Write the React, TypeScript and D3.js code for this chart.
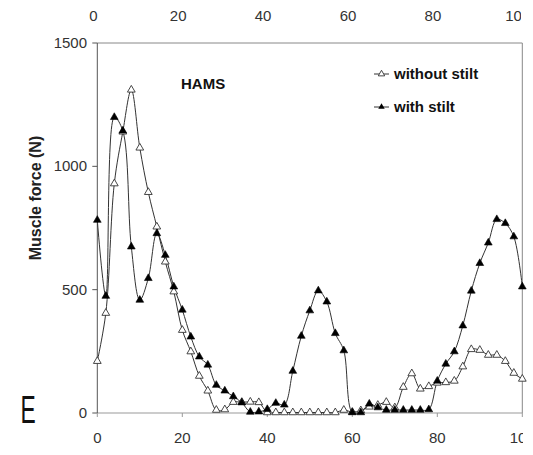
import React from "react";
import * as d3 from "d3";

const cycle = d3.range(0, 101, 2);
const withoutStilt = [210, 405, 930, 1140, 1310, 1075, 895, 755, 613, 492, 336, 249, 150, 90, 12, 14, 44, 44, 45, 43, 2, 2, 2, 2, 2, 2, 2, 2, 2, 12, 4, 10, 25, 32, 44, 22, 105, 160, 98, 108, 122, 124, 130, 188, 258, 255, 235, 235, 210, 162, 138];
const withStilt = [782, 474, 1199, 1144, 674, 458, 546, 728, 640, 512, 418, 309, 228, 195, 113, 90, 67, 42, 4, 5, 15, 40, 33, 170, 312, 415, 496, 451, 323, 253, 2, 2, 37, 22, 12, 12, 12, 12, 12, 14, 130, 199, 249, 354, 495, 607, 690, 785, 769, 715, 512];
const xTicks = [0, 20, 40, 60, 80, 100];
const yTicks = [0, 500, 1000, 1500];
const seriesNames = ["without stilt", "with stilt"];

export default function App() {
  const x = d3.scaleLinear().domain([0, 100]).range([97.3, 522.3]);
  const y = d3.scaleLinear().domain([0, 1500]).range([413, 43]);
  const line = d3
    .line<number>()
    .x((_, i) => x(cycle[i]))
    .y((d) => y(d))
    .curve(d3.curveCatmullRom.alpha(0.5));
  const tri = d3.symbol().type(d3.symbolTriangle).size(26)();
  const font = "Arial, 'Liberation Sans', sans-serif";
  const lineColor = "#333";
  return (
    <svg width={533} height={455} style={{ position: "absolute", left: 0, top: 0, background: "#fff" }}>
      <defs>
        <clipPath id="topclip">
          <rect x={0} y={9} width={521} height={20} />
        </clipPath>
        <clipPath id="rightclip">
          <rect x={0} y={0} width={523} height={455} />
        </clipPath>
      </defs>
      {/* top axis labels */}
      <g clipPath="url(#topclip)" fontFamily={font} fontSize={15} fill="#333">
        {xTicks.map((t, i) => (
          <text key={t} x={x(t) - 4 - i * 0.1} y={21} textAnchor="middle">
            {t}
          </text>
        ))}
      </g>
      {/* frame */}
      <line x1={x(0)} x2={x(100)} y1={y(1500)} y2={y(1500)} stroke="#888" strokeWidth={1} />
      <line x1={x(100)} x2={x(100)} y1={y(1500)} y2={y(0)} stroke="#888" strokeWidth={1} />
      <line x1={x(0)} x2={x(100)} y1={y(0)} y2={y(0)} stroke="#999" strokeWidth={1} />
      <line x1={x(0)} x2={x(0)} y1={y(1500)} y2={y(0)} stroke="#555" strokeWidth={1} />
      {yTicks.map((t) => (
        <g key={t}>
          <line x1={x(0) - 5} x2={x(0)} y1={y(t)} y2={y(t)} stroke="#555" />
          <text x={87} y={y(t) + 5} textAnchor="end" fontFamily={font} fontSize={15} fill="#333">
            {t}
          </text>
        </g>
      ))}
      <g clipPath="url(#rightclip)">
        {xTicks.map((t) => (
          <g key={t}>
            <line x1={x(t)} x2={x(t)} y1={y(0)} y2={y(0) + 4} stroke="#999" />
            <text x={x(t)} y={443} textAnchor="middle" fontFamily={font} fontSize={15} fill="#333">
              {t}
            </text>
          </g>
        ))}
      </g>
      {/* series */}
      <path d={line(withoutStilt) || ""} fill="none" stroke={lineColor} strokeWidth={1} />
      <path d={line(withStilt) || ""} fill="none" stroke={lineColor} strokeWidth={1} />
      {withoutStilt.map((v, i) => (
        <path key={"o" + i} d={tri || ""} transform={`translate(${x(cycle[i])},${y(v)})`} fill="#fff" stroke="#333" strokeWidth={0.9} />
      ))}
      {withStilt.map((v, i) => (
        <path key={"f" + i} d={tri || ""} transform={`translate(${x(cycle[i])},${y(v)})`} fill="#000" stroke="#000" strokeWidth={0.6} />
      ))}
      {/* labels */}
      <text x={181} y={89} fontFamily={font} fontSize={15} fontWeight="bold" fill="#111">
        HAMS
      </text>
      <g fontFamily={font} fontSize={15} fontWeight="bold" fill="#111">
        <line x1={374} x2={389} y1={74} y2={74} stroke={lineColor} />
        <path d={d3.symbol().type(d3.symbolTriangle).size(18)() || ""} transform="translate(381.5,74)" fill="#fff" stroke="#333" strokeWidth={0.9} />
        <text x={394} y={79}>{seriesNames[0]}</text>
        <line x1={374} x2={389} y1={107} y2={107} stroke={lineColor} />
        <path d={d3.symbol().type(d3.symbolTriangle).size(18)() || ""} transform="translate(381.5,107)" fill="#000" />
        <text x={394} y={112}>{seriesNames[1]}</text>
      </g>
      <text
        transform="translate(41,198) rotate(-90)"
        textAnchor="middle"
        fontFamily={font}
        fontSize={16}
        fontWeight="bold"
        fill="#222"
      >
        Muscle force (N)
      </text>
      <text x={20} y={423} textAnchor="middle" fontFamily={font} fontSize={38} fill="#111" transform="translate(20,0) scale(0.6,1) translate(-20,0)" style={{ transformOrigin: "20px 0px" }}>
        E
      </text>
    </svg>
  );
}
